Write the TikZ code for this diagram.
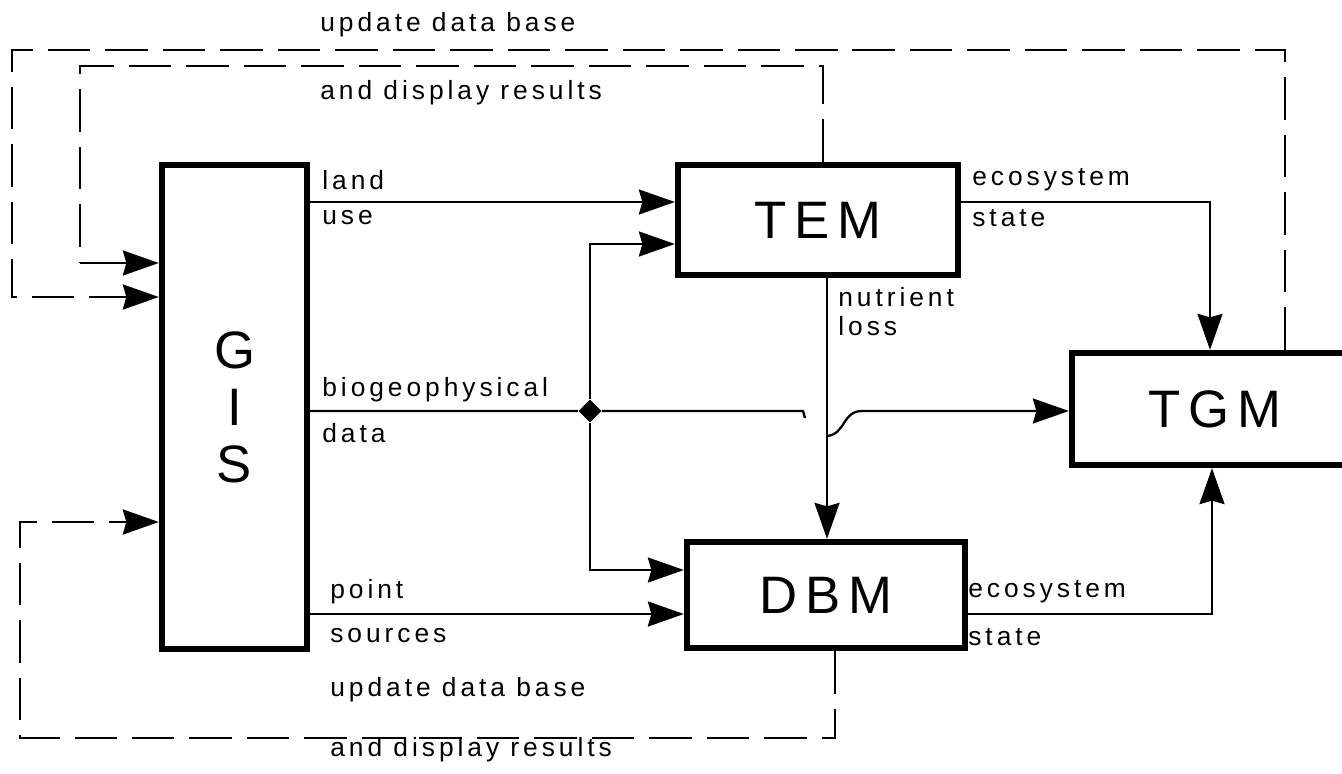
\documentclass[tikz,border=0pt]{standalone}
\usepackage{fontspec}
\setmainfont{Liberation Sans}
\newfontfamily\tagfont[LetterSpace=15]{Liberation Sans}
\usetikzlibrary{shapes.geometric, arrows.meta, calc}

\tikzstyle{model} = [rectangle, draw=black, line width=3.6pt, align=center,
font=\tagfont\fontsize{30}{32.5}\selectfont]
\tikzstyle{arrow} = [line width=1.3pt, -{Stealth[length=0.72cm, width=0.5cm, inset=0.07cm]}]
\tikzstyle{feedback} = [line width=1.6pt, dash pattern=on 0.85cm off 0.3cm]
\tikzstyle{tag} = [anchor=west, inner sep=0pt, font=\tagfont\fontsize{15}{17}\selectfont]

\begin{document}
\begin{tikzpicture}[x=0.02cm, y=-0.02cm]
  \useasboundingbox (0,0) rectangle (1342,774);

  % the four models
  \node (gis) [model, minimum width=2.9cm, minimum height=9.68cm] at (234.5,407) {G\\I\\S};
  \node (tem) [model, minimum width=5.6cm, minimum height=2.2cm] at (818,220) {TEM};
  \node (dbm) [model, minimum width=5.56cm, minimum height=2.12cm] at (826,595) {DBM};
  \node (tgm) [model, minimum width=5.72cm, minimum height=2.24cm] at (1215,409) {TGM};
  \node (split) [diamond, fill=black, inner sep=0pt, minimum size=0.46cm] at (590,411) {};

  % data flow
  \draw[arrow] (gis.east |- 0,202) -- (tem.west |- 0,202);
  \draw[arrow] (split) |- (tem.west |- 0,244);
  \draw[arrow] (split) |- (dbm.west |- 0,570);
  \draw[line width=1.3pt] (gis.east |- split) -- (split) -- (803,411) -- (805,418);
  \draw[arrow] (827,436) .. controls (846,434) and (842,411) .. (862,411) -- (tgm.west |- split);
  \draw[arrow] (tem.south -| 827,0) -- (dbm.north -| 827,0);
  \draw[arrow] (gis.east |- 0,614) -- (dbm.west |- 0,614);
  \draw[arrow] (tem.east |- 0,202) -| (tgm.north -| 1210,0);
  \draw[arrow] (dbm.east |- 0,614) -| (tgm.south -| 1212,0);

  % feedback loops
  \draw[arrow, feedback] (tgm.north -| 1285,0) |- (12,50) |- (gis.west |- 0,297);
  \draw[feedback] (tem.north -| 823,0) |- (80,66) -- (80,263);
  \draw[arrow] (80,263) -- (gis.west |- 0,263);
  \draw[arrow, feedback] (dbm.south -| 835,0) |- (20,738) |- (gis.west |- 0,522);

  % labels
  \node (upd1) [tag] at (320,25) {update data base};
  \node (disp1) [tag] at (320,93) {and display results};
  \node (land) [tag] at (322,180) {land};
  \node (use) [tag] at (322,218) {use};
  \node (bio) [tag] at (322,390) {biogeophysical};
  \node (data) [tag] at (322,433) {data};
  \node (point) [tag] at (330,592) {point};
  \node (sources) [tag] at (330,636) {sources};
  \node (eco1) [tag] at (972,180) {ecosystem};
  \node (state1) [tag] at (972,218) {state};
  \node (nutr) [tag] at (838,297) {nutrient};
  \node (loss) [tag] at (838,326) {loss};
  \node (eco2) [tag] at (968,592) {ecosystem};
  \node (state2) [tag] at (968,637) {state};
  \node (upd2) [tag] at (330,690) {update data base};
  \node (disp2) [tag] at (330,750) {and display results};
\end{tikzpicture}
\end{document}
